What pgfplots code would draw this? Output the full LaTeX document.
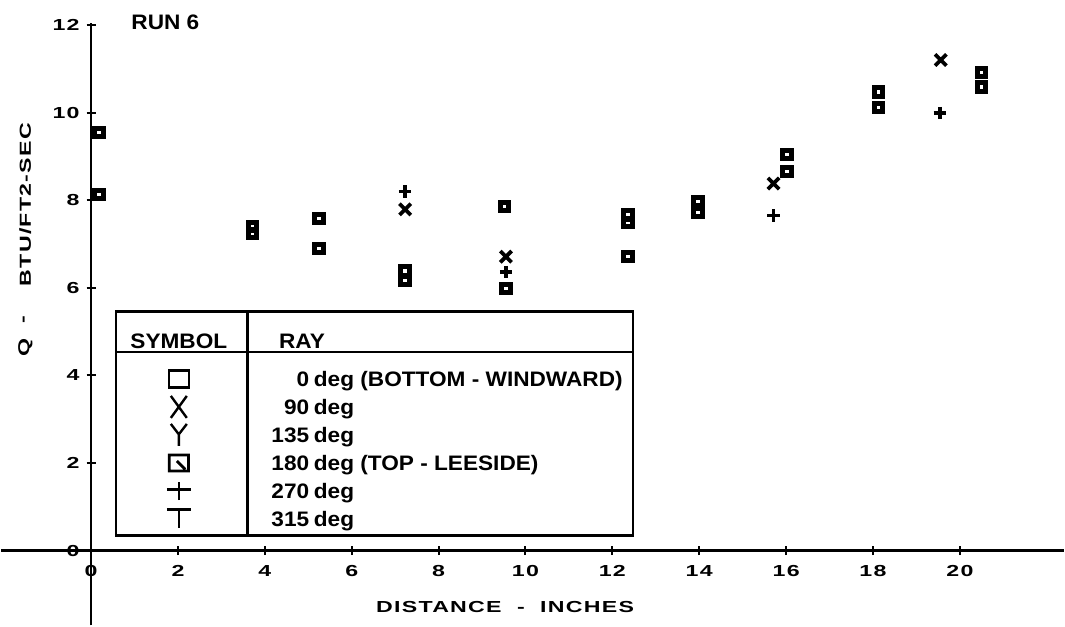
\documentclass[border=0pt]{standalone}
\usepackage{fontspec}
\setmainfont{Liberation Sans}
\newfontfamily\legfont{Liberation Sans}[FakeStretch=1.08]
\newfontfamily\plotfont{Liberation Sans}[FakeStretch=1.45, LetterSpace=8]
\usepackage{pgfplots}
\pgfplotsset{compat=1.18}
\begin{document}
\begin{tikzpicture}
\begin{axis}[
  scale only axis, width=532.5pt, height=313.5pt,
  xmin=-2.067, xmax=22.39, ymin=-1.71, ymax=12.57,
  axis lines=middle, axis line style={draw=none},
  xtick={0,2,...,20}, ytick={0,2,...,12},
  tick align=center, major tick length=4.5pt,
  every tick/.style={black, line width=1pt},
  hide obscured x ticks=false, hide obscured y ticks=false,
  tick label style={font=\plotfont\bfseries\fontsize{8}{9}\selectfont},
  xticklabel style={yshift=-1.5pt},
  /pgf/number format/assume math mode=true,
  clip=false,
]
% axis lines
\draw[line width=1.3pt] (axis cs:-2.067,0) -- (axis cs:22.39,0);
\draw[line width=1.3pt] (axis cs:0,-1.71) -- (axis cs:0,12.05);

% 0 deg / 180 deg (squares)
\addplot[only marks, mark=square, mark size=2.1pt, line width=2.5pt, black] coordinates {
 (0.18,9.54) (3.72,7.40) (5.25,7.58) (7.23,6.38) (9.51,7.85) (12.36,7.66)
 (13.97,7.97) (16.02,9.04) (18.12,10.47) (20.50,10.91)
};
\addplot[only marks, mark=square, mark size=2.1pt, line width=2.5pt, black] coordinates {
 (0.18,8.13) (3.72,7.24) (5.25,6.89) (7.23,6.17) (9.55,5.98) (12.36,7.49)
 (12.36,6.71) (13.97,7.72) (16.02,8.65) (18.12,10.12) (20.50,10.58)
};
% 90 deg (X)
\addplot[only marks, mark=x, mark size=4pt, line width=1.9pt, black] coordinates {
 (7.23,7.79) (9.55,6.71) (15.71,8.38) (19.56,11.20)
};
% 270 deg (+)
\addplot[only marks, mark=+, mark size=3.1pt, line width=1.9pt, black] coordinates {
 (7.23,8.20) (9.55,6.36) (15.71,7.65) (19.54,9.99)
};

% title
\node[anchor=west, inner sep=0pt, font=\legfont\bfseries\fontsize{10.5}{12}\selectfont] at (axis cs:0.92,12.06) {RUN 6};

% axis labels
\node[rotate=90, font=\plotfont\bfseries\fontsize{8}{9}\selectfont] at (axis cs:-1.515,7.90) {BTU/FT2-SEC};
\node[rotate=90, font=\plotfont\bfseries\fontsize{8}{9}\selectfont] at (axis cs:-1.515,5.28) {-};
\node[rotate=90, font=\plotfont\bfseries\fontsize{8}{9}\selectfont] at (axis cs:-1.515,4.64) {Q};
\node[font=\plotfont\bfseries\fontsize{8}{9}\selectfont] at (axis cs:9.53,-1.28) {DISTANCE\ \ -\ \ INCHES};

% legend table
\draw[line width=1.2pt] (axis cs:0.574,0.34) rectangle (axis cs:12.47,5.46);
\draw[line width=1.2pt] (axis cs:3.605,0.34) -- (axis cs:3.605,5.46);
\draw[line width=1.2pt] (axis cs:0.574,4.53) -- (axis cs:12.47,4.53);
\begin{scope}[font=\legfont\bfseries\fontsize{10.5}{12}\selectfont]
\node[anchor=base] at (axis cs:2.02,4.61) {SYMBOL};
\node[anchor=base west, inner sep=0pt] at (axis cs:4.32,4.61) {RAY};
\node[anchor=base east, inner sep=0pt] at (axis cs:5.03,3.75) {0};
\node[anchor=base west, inner sep=0pt] at (axis cs:5.12,3.75) {deg (BOTTOM - WINDWARD)};
\node[anchor=base east, inner sep=0pt] at (axis cs:5.03,3.11) {90};
\node[anchor=base west, inner sep=0pt] at (axis cs:5.12,3.11) {deg};
\node[anchor=base east, inner sep=0pt] at (axis cs:5.03,2.47) {135};
\node[anchor=base west, inner sep=0pt] at (axis cs:5.12,2.47) {deg};
\node[anchor=base east, inner sep=0pt] at (axis cs:5.03,1.83) {180};
\node[anchor=base west, inner sep=0pt] at (axis cs:5.12,1.83) {deg (TOP - LEESIDE)};
\node[anchor=base east, inner sep=0pt] at (axis cs:5.03,1.20) {270};
\node[anchor=base west, inner sep=0pt] at (axis cs:5.12,1.20) {deg};
\node[anchor=base east, inner sep=0pt] at (axis cs:5.03,0.56) {315};
\node[anchor=base west, inner sep=0pt] at (axis cs:5.12,0.56) {deg};
\end{scope}
% legend symbols
\draw[line width=1.3pt, shift={(axis cs:2.02,3.92)}] (-5pt,-4.3pt) rectangle (5pt,4.3pt);
\draw[line width=1.2pt, shift={(axis cs:2.02,3.28)}] (-4pt,-5.5pt) -- (4pt,5.5pt) (-4pt,5.5pt) -- (4pt,-5.5pt);
\draw[line width=1.2pt, shift={(axis cs:2.02,2.64)}] (-4pt,5.5pt) -- (0pt,0.3pt) -- (4pt,5.5pt) (0pt,0.3pt) -- (0pt,-5.5pt);
\draw[line width=1.4pt, shift={(axis cs:2.02,2.00)}] (-4.8pt,-4pt) rectangle (4.8pt,4pt) (-1pt,1pt) -- (3.2pt,-3.2pt);
\draw[line width=1.3pt, shift={(axis cs:2.02,1.37)}] (-6pt,0.5pt) -- (6pt,0.5pt) (0pt,-4.8pt) -- (0pt,4.5pt);
\draw[line width=1.3pt, shift={(axis cs:2.02,0.73)}] (-6pt,4.5pt) -- (6pt,4.5pt) (0pt,4.5pt) -- (0pt,-4.8pt);
\end{axis}
\end{tikzpicture}
\end{document}
